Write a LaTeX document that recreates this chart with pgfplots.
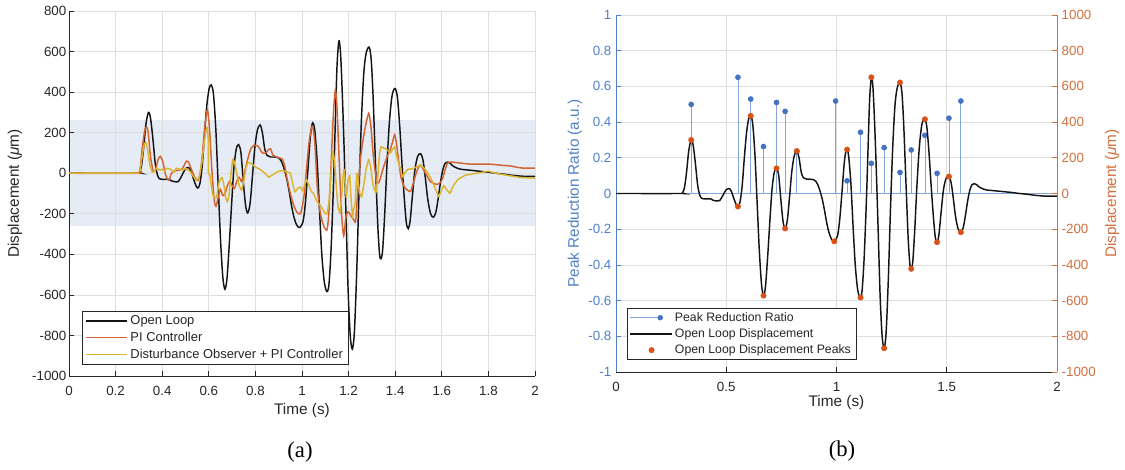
\documentclass[border=0pt]{standalone}
\usepackage{pgfplots}
\pgfplotsset{compat=1.18}
\usepackage{fontspec}
\setmainfont{Liberation Sans}
\newfontfamily\seriffont{Liberation Serif}

\definecolor{olblack}{RGB}{20,20,20}
\definecolor{piorange}{RGB}{210,100,50}
\definecolor{dobyellow}{RGB}{220,180,50}
\definecolor{bandblue}{RGB}{229,236,245}
\definecolor{gridgray}{RGB}{222,222,222}
\definecolor{axisgray}{RGB}{38,38,38}
\definecolor{leftblue}{RGB}{80,128,200}
\definecolor{stemblue}{RGB}{130,165,220}
\definecolor{dotblue}{RGB}{68,114,196}
\definecolor{rightorange}{RGB}{208,112,64}
\definecolor{peakorange}{RGB}{217,83,25}

\pgfplotstableread{
t v
0 0
0.29 0
0.30 2
0.31 30
0.32 120
0.33 240
0.341 300
0.35 270
0.36 170
0.37 50
0.38 -10
0.39 -28
0.41 -30
0.43 -30
0.44 -38
0.455 -42
0.47 -40
0.485 -10
0.50 22
0.512 28
0.522 15
0.535 -30
0.545 -62
0.553 -73
0.562 -50
0.572 40
0.582 200
0.592 340
0.602 420
0.611 435
0.62 390
0.63 220
0.64 -50
0.65 -320
0.66 -510
0.669 -572
0.678 -520
0.688 -350
0.698 -150
0.708 30
0.718 120
0.728 141
0.738 100
0.748 -40
0.758 -160
0.767 -196
0.777 -150
0.787 -20
0.797 120
0.808 210
0.82 238
0.83 200
0.84 120
0.85 88
0.865 80
0.88 80
0.895 78
0.905 70
0.915 50
0.925 15
0.935 -30
0.945 -90
0.955 -160
0.965 -215
0.977 -255
0.990 -268
1.005 -235
1.015 -140
1.025 10
1.035 170
1.043 240
1.048 246
1.055 210
1.065 60
1.075 -180
1.085 -400
1.095 -530
1.103 -575
1.109 -583
1.116 -545
1.125 -370
1.135 -60
1.143 250
1.150 520
1.158 651
1.165 600
1.172 420
1.18 150
1.19 -250
1.198 -580
1.207 -800
1.216 -867
1.225 -780
1.235 -480
1.245 -80
1.255 260
1.265 490
1.275 590
1.288 622
1.297 560
1.305 380
1.315 60
1.325 -250
1.333 -400
1.339 -422
1.346 -380
1.355 -200
1.365 50
1.375 250
1.385 370
1.393 410
1.401 416
1.41 370
1.42 220
1.43 30
1.44 -140
1.448 -245
1.456 -273
1.464 -235
1.474 -110
1.485 20
1.497 85
1.51 95
1.52 60
1.53 -30
1.54 -130
1.552 -200
1.564 -217
1.575 -190
1.585 -120
1.595 -40
1.605 20
1.615 50
1.625 55
1.635 50
1.645 38
1.66 28
1.68 20
1.72 15
1.76 10
1.80 5
1.83 0
1.87 -5
1.9 -10
1.95 -15
2.0 -15
}\openloop

\pgfplotstableread{
t v
0 0
0.295 0
0.305 20
0.315 130
0.325 210
0.333 228
0.34 200
0.35 80
0.362 8
0.372 20
0.383 70
0.393 83
0.403 55
0.415 -10
0.428 -35
0.44 0
0.455 12
0.47 15
0.485 20
0.497 45
0.505 60
0.513 55
0.525 20
0.54 -20
0.553 -35
0.563 0
0.573 100
0.583 230
0.594 313
0.603 220
0.613 20
0.623 -130
0.631 -163
0.64 -120
0.65 -80
0.66 -110
0.67 -100
0.68 -60
0.69 -40
0.70 -60
0.71 -75
0.72 -40
0.73 -20
0.74 -40
0.75 -10
0.765 60
0.78 120
0.795 138
0.805 138
0.815 128
0.83 100
0.845 100
0.855 115
0.865 120
0.875 90
0.89 80
0.905 75
0.915 70
0.925 40
0.935 -20
0.95 -100
0.965 -160
0.98 -195
0.993 -200
1.0 -170
1.01 -100
1.02 30
1.03 150
1.04 220
1.046 230
1.055 150
1.065 -60
1.075 -170
1.085 -230
1.095 -265
1.107 -280
1.115 -200
1.125 50
1.135 300
1.143 410
1.15 330
1.16 50
1.17 -200
1.179 -310
1.188 -220
1.198 -190
1.21 -210
1.222 -230
1.23 -235
1.24 -80
1.25 60
1.26 150
1.272 230
1.286 295
1.295 240
1.305 100
1.315 0
1.325 -50
1.335 -30
1.35 30
1.365 80
1.38 120
1.39 160
1.398 190
1.405 150
1.415 60
1.425 -20
1.44 -70
1.455 -85
1.465 -90
1.475 -60
1.49 0
1.5 30
1.51 40
1.52 20
1.535 -10
1.55 -40
1.565 -50
1.58 -55
1.595 -45
1.605 -20
1.615 20
1.625 50
1.64 55
1.68 50
1.72 45
1.8 45
1.85 40
1.9 35
1.92 30
1.95 25
2.0 25
}\picontrol

\pgfplotstableread{
t v
0 0
0.295 0
0.305 15
0.315 90
0.322 140
0.329 154
0.337 120
0.347 40
0.357 5
0.367 10
0.377 25
0.39 15
0.40 20
0.41 10
0.42 25
0.435 20
0.45 5
0.46 25
0.475 20
0.49 15
0.50 25
0.51 15
0.519 10
0.53 -10
0.547 -36
0.558 -20
0.57 50
0.58 150
0.588 210
0.594 228
0.598 160
0.5985 0
0.605 -10
0.613 -80
0.62 -120
0.627 -126
0.635 -110
0.645 -40
0.657 -20
0.665 -60
0.672 -120
0.68 -143
0.688 -100
0.695 0
0.703 70
0.71 55
0.72 0
0.73 -60
0.741 -85
0.75 -40
0.76 30
0.769 54
0.78 50
0.79 40
0.80 30
0.818 20
0.83 10
0.845 -5
0.857 -20
0.87 -10
0.885 0
0.9 10
0.91 12
0.925 10
0.94 5
0.95 0
0.96 -50
0.969 -93
0.978 -80
0.987 -70
0.995 -69
1.003 -90
1.01 -60
1.02 -30
1.03 -60
1.04 -90
1.05 -100
1.06 -130
1.071 -150
1.08 -160
1.09 -180
1.1 -200
1.107 -200
1.115 -150
1.122 -50
1.128 60
1.133 111
1.14 60
1.148 -80
1.155 -170
1.163 -200
1.17 -120
1.176 -20
1.18 20
1.185 -40
1.19 -120
1.198 -30
1.205 -10
1.212 -150
1.217 -220
1.222 -180
1.228 -150
1.235 0
1.24 -20
1.248 -100
1.256 -118
1.265 -60
1.275 20
1.286 70
1.295 30
1.305 -60
1.317 -98
1.325 -20
1.333 100
1.34 131
1.35 125
1.36 120
1.37 110
1.38 100
1.39 120
1.398 130
1.405 90
1.415 50
1.425 10
1.432 -20
1.44 0
1.455 20
1.47 20
1.49 30
1.509 40
1.52 30
1.535 10
1.555 -30
1.57 -70
1.586 -115
1.597 -90
1.609 -60
1.62 -80
1.635 -100
1.65 -60
1.67 -30
1.7 -10
1.75 0
1.8 10
1.83 0
1.88 -10
1.93 -20
2.0 -25
}\dobpi

\pgfplotstableread{
t r
0.341 0.499
0.553 0.651
0.611 0.529
0.669 0.263
0.728 0.510
0.767 0.460
0.820 0.235
0.996 0.518
1.048 0.071
1.109 0.343
1.158 0.169
1.216 0.257
1.288 0.118
1.339 0.244
1.401 0.326
1.456 0.113
1.510 0.422
1.564 0.518
}\ratio

\pgfplotstableread{
t v
0.341 300
0.553 -73
0.611 435
0.669 -572
0.728 141
0.767 -196
0.820 238
0.990 -268
1.048 246
1.109 -583
1.158 651
1.216 -867
1.288 622
1.339 -422
1.401 416
1.456 -273
1.510 95
1.564 -217
}\peaks

\pgfplotsset{
  mybase/.style={
    scale only axis,
    xmin=0, xmax=2,
    tick align=inside,
    major tick length=3.5pt,
    tick style={axisgray, line width=0.5pt},
    axis line style={axisgray, line width=0.6pt, -},
    ticklabel style={font=\fontsize{10}{12}\selectfont, color=axisgray},
    xticklabel style={yshift=-4pt},
    /pgf/number format/assume math mode=true,
    /pgf/number format/1000 sep={},
    label style={font=\fontsize{11.5}{14}\selectfont, color=axisgray},
    legend cell align=left,
  }
}

\begin{document}
\begin{tikzpicture}

% ---------------- panel (a)
\begin{axis}[mybase,
  set layers,
  at={(51.75pt,-282pt)}, anchor=south west,
  width=349.5pt, height=273.75pt,
  ymin=-1000, ymax=800,
  ytick={-1000,-800,-600,-400,-200,0,200,400,600,800},
  xtick={0,0.2,0.4,0.6,0.8,1,1.2,1.4,1.6,1.8,2},
  xticklabel style={/pgf/number format/fixed},
  yticklabel style={xshift=1.5pt},
  axis x line*=bottom, axis y line*=left,
  grid=major, major grid style={gridgray, line width=0.5pt},
  xlabel={Time (s)}, ylabel={Displacement ({\itshape μ}m)},
  xlabel style={at={(axis description cs:0.5,-0.095)}, anchor=center},
  ylabel style={at={(axis description cs:-0.116,0.5)}, anchor=center},
  legend image code/.code={\draw[#1] (0pt,0pt) -- (31pt,0pt);},
  legend style={at={(0.028,0.032)}, anchor=south west, draw=axisgray, fill=white,
    font=\fontsize{9.7}{11}\selectfont, text=axisgray, inner xsep=2pt, inner ysep=1pt,
    row sep=0pt},
]
\addplot[draw=none, fill=bandblue, on layer=axis background, forget plot]
  coordinates {(0,-262) (2,-262) (2,262) (0,262)};
\addplot[olblack, line width=1.1pt, smooth, tension=0.5] table[x=t,y=v] {\openloop};
\addplot[piorange, line width=1.1pt, smooth, tension=0.4] table[x=t,y=v] {\picontrol};
\addplot[dobyellow, line width=1.1pt, line join=round] table[x=t,y=v] {\dobpi};
\legend{Open Loop, PI Controller, Disturbance Observer + PI Controller}
\end{axis}

% ---------------- panel (b), left axis
\begin{axis}[mybase,
  at={(462pt,-279pt)}, anchor=south west,
  width=330.75pt, height=267.75pt,
  ymin=-1, ymax=1,
  ytick={-1,-0.8,-0.6,-0.4,-0.2,0,0.2,0.4,0.6,0.8,1},
  xtick={0,0.5,1,1.5,2},
  xticklabel style={/pgf/number format/fixed},
  axis x line*=bottom, axis y line*=left,
  y axis line style={leftblue},
  ytick style={leftblue},
  yticklabel style={leftblue, /pgf/number format/fixed},
  grid=major, major grid style={gridgray, line width=0.5pt},
  xlabel={Time (s)}, ylabel={Peak Reduction Ratio (a.u.)},
  xlabel style={at={(axis description cs:0.5,-0.086)}, anchor=center},
  ylabel style={at={(axis description cs:-0.093,0.5)}, anchor=center, color=leftblue},
]
\addplot[stemblue, line width=0.6pt] coordinates {(0,0) (2,0)};
\addplot[stemblue, line width=0.6pt, ycomb, mark=*, mark size=1.8pt,
  mark options={fill=dotblue, draw=dotblue}] table[x=t,y=r] {\ratio};
\end{axis}

% ---------------- panel (b), right axis
\begin{axis}[mybase,
  at={(462pt,-279pt)}, anchor=south west,
  width=330.75pt, height=267.75pt,
  ymin=-1000, ymax=1000,
  ytick={-1000,-800,-600,-400,-200,0,200,400,600,800,1000},
  axis x line=none, axis y line*=right,
  y axis line style={rightorange},
  ytick style={rightorange},
  yticklabel style={rightorange},
  ylabel={Displacement ({\itshape μ}m)},
  ylabel style={at={(axis description cs:1.125,0.5)}, anchor=center, color=rightorange},
  legend style={at={(0.024,0.034)}, anchor=south west, draw=axisgray, fill=white,
    font=\fontsize{9.2}{11}\selectfont, text=axisgray, inner xsep=2pt, inner ysep=1pt,
    row sep=0pt},
]
\addplot[olblack, line width=1.1pt, smooth, tension=0.5, forget plot]
  table[x=t,y=v] {\openloop};
\addplot[only marks, mark=*, mark size=2pt, mark options={fill=peakorange, draw=peakorange}, forget plot]
  table[x=t,y=v] {\peaks};
\addlegendimage{legend image code/.code={\path[draw=none] (0pt,0pt) -- (31pt,0pt);
  \draw[stemblue, line width=0.6pt] (0pt,0pt) -- (22.5pt,0pt);
  \fill[dotblue] (22.5pt,0pt) circle (1.8pt);}}
\addlegendimage{legend image code/.code={\draw[olblack, line width=1.1pt] (0pt,0pt) -- (31pt,0pt);}}
\addlegendimage{legend image code/.code={\path[draw=none] (0pt,0pt) -- (31pt,0pt);
  \fill[peakorange] (16pt,0pt) circle (2pt);}}
\legend{Peak Reduction Ratio, Open Loop Displacement, Open Loop Displacement Peaks}
\end{axis}

\node[font=\seriffont\fontsize{17}{20}\selectfont, text=black] at (225pt,-339pt) {(a)};
\node[font=\seriffont\fontsize{17}{20}\selectfont, text=black] at (631.5pt,-338.25pt) {(b)};

\pgfresetboundingbox
\useasboundingbox (0pt,0pt) rectangle (843.75pt,-352.5pt);
\end{tikzpicture}
\end{document}
